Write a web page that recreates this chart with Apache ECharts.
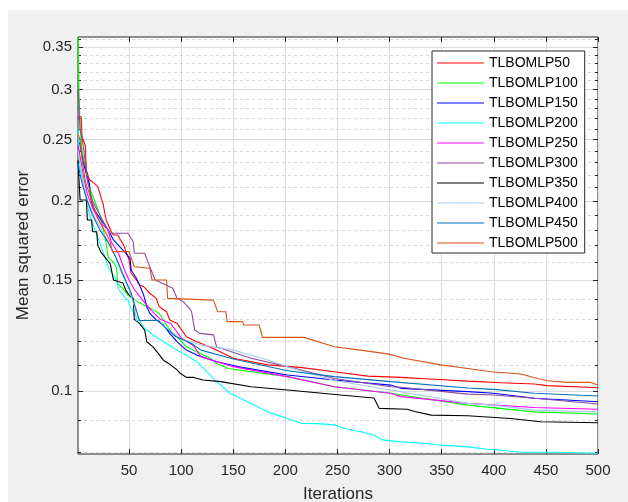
<!DOCTYPE html>
<html>
<head>
<meta charset="utf-8">
<script src="https://cdn.jsdelivr.net/npm/echarts@6/dist/echarts.min.js"></script>
<style>
  html, body { margin: 0; padding: 0; background: #fff; }
  #chart { width: 628px; height: 502px; }
</style>
</head>
<body>
<div id="chart"></div>
<script>
// convergence curves, [iteration, mean squared error]
const names = ['TLBOMLP50', 'TLBOMLP100', 'TLBOMLP150', 'TLBOMLP200', 'TLBOMLP250',
  'TLBOMLP300', 'TLBOMLP350', 'TLBOMLP400', 'TLBOMLP450', 'TLBOMLP500'];
const colors = ['#ff0000', '#00ff00', '#0000ff', '#00ffff', '#ff00ff',
  '#8e4aa3', '#000000', '#a6c8f2', '#0072bd', '#d95319'];

const mlp50 = [[1,0.272],[4,0.272],[5,0.252],[8,0.245],[9,0.224],[12,0.216],[17,0.213],[20,0.2107],[23,0.203],[25,0.198],[28,0.1866],[33,0.1788],[35,0.1767],[39,0.1767],[45,0.17],[50,0.1613],[52,0.1537],[57,0.15],[60,0.1473],[64,0.1464],[70,0.1429],[76,0.1403],[79,0.1361],[86,0.1336],[89,0.1297],[96,0.1281],[105,0.122],[115,0.1198],[127,0.1176],[134,0.1162],[150,0.1128],[183,0.1101],[214,0.1091],[247,0.1074],[279,0.1057],[311,0.1052],[343,0.1045],[375,0.1038],[407,0.1032],[439,0.1027],[451,0.1021],[500,0.1013]];
const mlp100 = [[1,0.363],[2,0.30],[3,0.26],[5,0.24],[8,0.225],[12,0.21],[17,0.2],[22,0.19],[27,0.175],[30,0.163],[35,0.16],[38,0.157],[39,0.148],[44,0.1455],[49,0.1418],[60,0.138],[72,0.135],[79,0.1328],[89,0.125],[96,0.122],[105,0.1176],[128,0.1128],[134,0.1107],[145,0.1087],[202,0.1055],[247,0.1017],[301,0.0993],[375,0.0951],[439,0.0928],[500,0.0921]];
const mlp150 = [[1,0.25],[3,0.245],[6,0.23],[10,0.218],[12,0.2133],[13,0.203],[15,0.1959],[23,0.1866],[28,0.1821],[31,0.1788],[35,0.1735],[47,0.1653],[51,0.1623],[52,0.1555],[57,0.1509],[60,0.1473],[64,0.142],[67,0.1361],[70,0.1328],[76,0.1297],[83,0.1273],[89,0.1235],[96,0.1198],[105,0.1162],[115,0.1141],[124,0.1128],[134,0.1114],[160,0.109],[202,0.1061],[247,0.1042],[301,0.1023],[311,0.1011],[375,0.0999],[400,0.0993],[439,0.0975],[500,0.0963]];
const mlp200 = [[1,0.26],[3,0.225],[8,0.205],[12,0.19],[20,0.175],[27,0.163],[30,0.157],[38,0.15],[40,0.145],[47,0.14],[49,0.1394],[51,0.1361],[55,0.1328],[64,0.1265],[67,0.125],[73,0.1228],[83,0.1198],[91,0.1176],[96,0.1162],[105,0.1141],[115,0.1114],[123,0.1081],[129,0.1055],[134,0.1036],[147,0.0993],[160,0.0969],[183,0.0928],[202,0.0906],[215,0.089],[231,0.0889],[247,0.0885],[256,0.0874],[272,0.0863],[285,0.0853],[293,0.0838],[311,0.0832],[336,0.0827],[349,0.0822],[375,0.0817],[394,0.081],[407,0.0807],[426,0.0801],[458,0.0801],[500,0.0798]];
const mlp250 = [[1,0.245],[3,0.235],[6,0.22],[10,0.205],[15,0.195],[22,0.185],[30,0.18],[33,0.172],[40,0.165],[46,0.155],[50,0.15],[55,0.145],[62,0.14],[70,0.135],[80,0.13],[90,0.128],[100,0.1215],[112,0.118],[119,0.1134],[150,0.1094],[202,0.1055],[247,0.1017],[301,0.0993],[311,0.0981],[375,0.0957],[439,0.0943],[500,0.0937]];
const mlp300 = [[1,0.30],[2,0.30],[3,0.26],[6,0.245],[10,0.215],[15,0.2],[22,0.19],[28,0.182],[31,0.1778],[49,0.1778],[54,0.1724],[55,0.1653],[65,0.1653],[68,0.1603],[75,0.15],[92,0.1455],[96,0.1403],[102,0.1386],[108,0.1353],[110,0.1336],[113,0.125],[118,0.1235],[131,0.1228],[134,0.1175],[138,0.117],[167,0.1128],[202,0.1094],[247,0.1048],[301,0.1017],[311,0.1015],[375,0.099],[400,0.0987],[439,0.0975],[500,0.0955]];
const mlp350 = [[1,0.232],[3,0.2007],[9,0.2007],[10,0.1866],[14,0.1866],[15,0.1788],[19,0.1788],[20,0.17],[23,0.166],[32,0.159],[35,0.15],[44,0.1484],[47,0.1444],[50,0.142],[54,0.1403],[55,0.13],[60,0.1281],[65,0.125],[67,0.1198],[68,0.1191],[73,0.1176],[78,0.1148],[83,0.112],[88,0.1107],[96,0.1081],[99,0.1068],[105,0.1052],[112,0.1052],[121,0.1042],[138,0.1036],[167,0.1017],[202,0.1005],[253,0.0987],[285,0.0976],[290,0.094],[317,0.0937],[324,0.0929],[340,0.0917],[375,0.0915],[416,0.0906],[445,0.0895],[500,0.0892]];
const mlp400 = [[1,0.24],[3,0.23],[6,0.215],[10,0.2],[16,0.19],[24,0.18],[30,0.172],[36,0.165],[42,0.155],[50,0.145],[56,0.135],[57,0.1294],[79,0.1294],[85,0.126],[100,0.121],[119,0.1184],[150,0.1162],[183,0.1121],[202,0.1094],[247,0.104],[301,0.1005],[375,0.0957],[400,0.0951],[439,0.0934],[500,0.0928]];
const mlp450 = [[1,0.23],[3,0.22],[6,0.21],[10,0.2],[15,0.19],[22,0.18],[30,0.172],[38,0.162],[45,0.152],[52,0.143],[56,0.136],[60,0.1294],[78,0.1294],[85,0.126],[95,0.122],[110,0.119],[119,0.1162],[150,0.1125],[202,0.1078],[247,0.1055],[301,0.1036],[375,0.1012],[400,0.1007],[439,0.0993],[500,0.0983]];
const mlp500 = [[1,0.255],[3,0.25],[5,0.232],[8,0.215],[12,0.205],[16,0.196],[22,0.185],[28,0.178],[32,0.172],[34,0.1663],[50,0.1663],[55,0.1574],[70,0.1565],[72,0.15],[86,0.15],[87,0.1403],[131,0.1394],[135,0.1336],[143,0.1336],[144,0.1289],[159,0.1289],[160,0.1273],[175,0.1273],[178,0.1217],[218,0.1217],[247,0.1176],[272,0.1162],[298,0.1146],[314,0.1128],[349,0.1101],[375,0.1087],[397,0.1074],[426,0.1065],[442,0.1048],[452,0.1039],[471,0.1033],[493,0.1033],[500,0.1023]];
const seriesData = [mlp50, mlp100, mlp150, mlp200, mlp250, mlp300, mlp350, mlp400, mlp450, mlp500];

const xTicks = [50, 100, 150, 200, 250, 300, 350, 400, 450, 500];
const yTicks = [0.1, 0.15, 0.2, 0.25, 0.3, 0.35];
const yMinor = [0.08, 0.09, 0.11, 0.12, 0.13, 0.14, 0.16, 0.17, 0.18, 0.19, 0.21, 0.22, 0.23, 0.24,
  0.26, 0.27, 0.28, 0.29, 0.31, 0.32, 0.33, 0.34, 0.36];
const yMin = 0.0796, yMax = 0.3633;

const font = 'Liberation Sans, Arial, sans-serif';
const ink = '#262626';

const chart = echarts.init(document.getElementById('chart'));

function yAx(pos, ticks, opts) {
  return Object.assign({
    type: 'log',
    logBase: 10,
    min: yMin,
    max: yMax,
    position: pos,
    axisLine: { show: false },
    axisTick: { show: true, inside: true, length: 5, customValues: ticks, lineStyle: { color: ink } },
    axisLabel: { show: false },
    splitLine: { show: false }
  }, opts);
}

const option = {
  animation: false,
  textStyle: { fontFamily: font },
  graphic: [
    { type: 'rect', z: -10, silent: true, shape: { x: 8, y: 10, width: 620, height: 492 }, style: { fill: '#f0f0f0' } },
    { type: 'text', left: 318, top: -16, style: { text: '(a)', font: '17px ' + font, fill: ink } }
  ],
  grid: {
    left: 78, top: 37, right: 30, bottom: 48,
    outerBoundsMode: 'none',
    show: true, backgroundColor: '#ffffff', borderColor: ink, borderWidth: 1
  },
  legend: {
    orient: 'vertical',
    left: 432, top: 51,
    padding: [5, 7, 3, 5],
    icon: 'path://M0,0 H47 V1.2 H0 Z',
    itemWidth: 47, itemHeight: 14, itemGap: 6,
    backgroundColor: '#ffffff',
    borderColor: ink, borderWidth: 1,
    textStyle: { fontSize: 14, color: '#000', fontFamily: font },
    data: names
  },
  xAxis: [
    {
      type: 'value', min: 1, max: 500, position: 'bottom',
      name: 'Iterations', nameLocation: 'middle', nameGap: 32,
      nameTextStyle: { fontSize: 17, color: ink, fontFamily: font },
      axisLine: { show: false },
      axisTick: { inside: true, length: 5, customValues: xTicks, lineStyle: { color: ink } },
      axisLabel: { customValues: xTicks, fontSize: 15, color: ink, margin: 9 },
      splitLine: { show: true, lineStyle: { color: '#dcdcdc', width: 1 } }
    },
    {
      type: 'value', min: 1, max: 500, position: 'top',
      axisLine: { show: false },
      axisTick: { inside: true, length: 5, customValues: xTicks, lineStyle: { color: ink } },
      axisLabel: { show: false },
      splitLine: { show: false }
    }
  ],
  yAxis: [
    yAx('left', yTicks, {
      name: 'Mean squared error', nameLocation: 'middle', nameGap: 38,
      nameTextStyle: { fontSize: 17, color: ink, fontFamily: font },
      axisLabel: {
        show: true, customValues: yTicks, fontSize: 15, color: ink, margin: 6,
        formatter: function (v) { return String(+(+v).toFixed(2)); }
      },
      splitLine: { show: true, lineStyle: { color: '#dcdcdc', width: 1 } }
    }),
    yAx('left', yMinor, {
      axisTick: { show: true, inside: true, length: 3, customValues: yMinor, lineStyle: { color: ink } },
      splitLine: { show: true, lineStyle: { color: '#d6d6d6', width: 1, type: [3, 3] } }
    }),
    yAx('right', yTicks, {}),
    yAx('right', yMinor, {
      axisTick: { show: true, inside: true, length: 3, customValues: yMinor, lineStyle: { color: ink } }
    })
  ],
  series: names.map(function (name, i) {
    return {
      name: name,
      type: 'line',
      xAxisIndex: 0,
      yAxisIndex: 0,
      symbol: 'none',
      data: seriesData[i],
      lineStyle: { color: colors[i], width: 1.1 },
      itemStyle: { color: colors[i] },
      z: 3
    };
  })
};

chart.setOption(option);
</script>
</body>
</html>
